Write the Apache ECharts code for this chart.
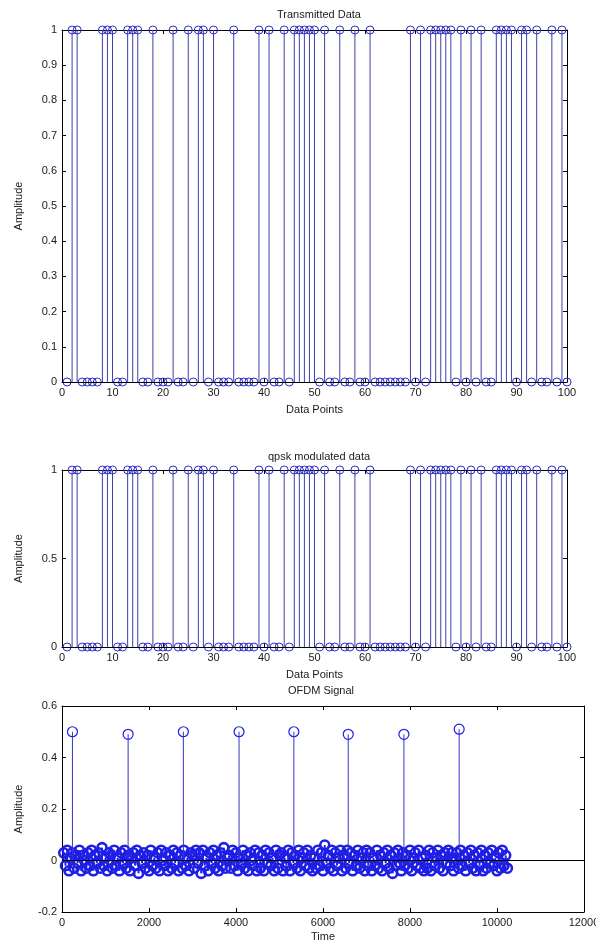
<!DOCTYPE html>
<html>
<head>
<meta charset="utf-8">
<script src="https://cdn.jsdelivr.net/npm/echarts@6/dist/echarts.min.js"></script>
<style>
  html, body { margin: 0; padding: 0; background: #fff; }
  #chart { width: 596px; height: 944px; }
</style>
</head>
<body>
<div id="chart"></div>
<script>
// transmitted bits, sample 1..100
const transmitted = [
  0,1,1,0,0,0,0,1,1,1,
  0,0,1,1,1,0,0,1,0,0,
  0,1,0,0,1,0,1,1,0,1,
  0,0,0,1,0,0,0,0,1,0,
  1,0,0,1,0,1,1,1,1,1,
  0,1,0,0,1,0,0,1,0,0,
  1,0,0,0,0,0,0,0,1,0,
  1,0,1,1,1,1,1,0,1,0,
  1,0,1,0,0,1,1,1,1,0,
  1,1,0,1,0,0,1,0,1,0
]
// qpsk plot shows the same bit pattern
const qpskData = transmitted.slice()

// OFDM signal: small samples every 40 time steps, plus the pilot spikes
const ofdmStep = 40
const ofdmNoise = [
  0.03,-0.02,0.04,-0.04,0.01,0.03,-0.03,0.02,-0.01,0.04,-0.04,0.02,0.00,-0.03,0.03,-0.02,
  0.04,-0.04,0.02,-0.01,0.03,-0.03,0.05,-0.02,0.01,-0.04,0.03,0.02,-0.03,0.04,-0.02,0.01,
  -0.04,0.03,-0.01,0.04,-0.03,0.02,-0.04,0.01,0.03,-0.02,0.04,-0.05,0.02,-0.01,0.03,-0.03,
  0.02,-0.04,0.04,-0.02,0.01,-0.03,0.03,-0.04,0.04,0.00,-0.02,0.03,-0.04,0.02,-0.03,0.04,
  -0.01,0.03,-0.04,0.02,-0.03,0.04,-0.02,0.01,-0.04,0.03,0.02,-0.03,0.04,-0.01,0.03,-0.05,
  0.04,-0.02,0.01,-0.04,0.03,-0.01,0.04,-0.03,0.02,-0.04,0.03,-0.02,0.05,-0.03,0.01,0.02,
  -0.03,0.04,-0.02,0.03,-0.04,0.01,-0.01,0.04,-0.03,0.02,-0.04,0.03,0.00,-0.02,0.04,-0.04,
  0.03,-0.03,0.02,-0.04,0.04,-0.01,0.03,-0.02,0.01,-0.04,0.04,-0.03,0.02,0.03,-0.04,0.01,
  -0.02,0.04,-0.04,0.03,-0.01,0.02,-0.03,0.04,-0.04,0.01,0.03,-0.02,0.04,-0.03,0.02,-0.04,
  0.01,-0.03,0.04,-0.02,0.03,-0.04,0.06,-0.01,0.02,-0.03,0.04,-0.04,0.03,-0.02,0.01,0.04,
  -0.04,0.02,-0.03,0.04,-0.01,0.03,-0.04,0.02,-0.02,0.04,-0.03,0.01,0.03,-0.04,0.04,-0.02,
  0.03,-0.04,0.01,-0.02,0.04,-0.03,0.02,-0.04,0.03,-0.01,0.04,-0.03,0.02,-0.05,0.03,-0.02,
  0.04,-0.01,-0.04,0.03,-0.02,0.02,-0.03,0.04,-0.04,0.01,0.03,-0.02,0.04,-0.03,0.01,-0.04,
  0.02,-0.03,0.04,-0.04,0.03,-0.02,0.01,0.04,-0.03,0.02,-0.04,0.03,-0.01,0.04,-0.02,0.03,
  -0.04,0.01,0.03,-0.03,0.04,-0.02,0.02,-0.04,0.03,-0.01,0.04,-0.03,0.02,-0.04,0.03,-0.02,
  0.04,-0.04,0.02,-0.03,0.03,-0.01,0.04,-0.02,0.01,-0.04,0.03,-0.03,0.04,-0.02,0.02,-0.03
]
const spikeTimes = [240, 1520, 2790, 4070, 5330, 6580, 7860, 9130]
const spikeValues = [0.50, 0.49, 0.50, 0.50, 0.50, 0.49, 0.49, 0.51]

const bitTicks = [0, 100, 10]
const ofdmTicks = [0, 12000, 2000]

const FONT = 'Liberation Sans'
const TXT = '#1a1a1a'

function stem(r, lineColor, markColor, lw, mw) {
  return function (params, api) {
    const x = api.value(0)
    const y = api.value(1)
    const p = api.coord([x, y])
    const b = api.coord([x, 0])
    return {
      type: 'group',
      children: [
        { type: 'line', shape: { x1: b[0], y1: b[1], x2: p[0], y2: p[1] },
          style: { stroke: lineColor, lineWidth: lw } },
        { type: 'circle', shape: { cx: p[0], cy: p[1], r: r },
          style: { fill: 'transparent', stroke: markColor, lineWidth: mw } }
      ]
    }
  }
}

function xAxes(grid, ticks, name, gap) {
  const common = {
    gridIndex: grid, type: 'value', min: ticks[0], max: ticks[1], interval: ticks[2],
    axisLine: { show: true, onZero: false, lineStyle: { color: '#000', width: 1 } },
    axisTick: { show: true, inside: true, length: 4, lineStyle: { color: '#000' } },
    splitLine: { show: false }
  }
  return [
    Object.assign({}, common, {
      position: 'bottom', name: name, nameLocation: 'middle', nameGap: gap,
      nameTextStyle: { fontFamily: FONT, fontSize: 11, color: TXT },
      axisLabel: { fontFamily: FONT, fontSize: 11, color: TXT, margin: 5,
        formatter: v => String(v) }
    }),
    Object.assign({}, common, { position: 'top', axisLabel: { show: false } })
  ]
}

function yAxes(grid, min, max, interval) {
  const common = {
    gridIndex: grid, type: 'value', min: min, max: max, interval: interval,
    axisLine: { show: true, onZero: false, lineStyle: { color: '#000', width: 1 } },
    axisTick: { show: true, inside: true, length: 4, lineStyle: { color: '#000' } },
    splitLine: { show: false }
  }
  return [
    Object.assign({}, common, {
      position: 'left', name: 'Amplitude', nameLocation: 'middle', nameGap: 38,
      nameRotate: 90,
      nameTextStyle: { fontFamily: FONT, fontSize: 11, color: TXT },
      axisLabel: { fontFamily: FONT, fontSize: 11, color: TXT, margin: 5 }
    }),
    Object.assign({}, common, { position: 'right', axisLabel: { show: false } })
  ]
}

const bitPoints = transmitted.map((v, i) => [i + 1, v])
const qpskPoints = qpskData.map((v, i) => [i + 1, v])
const noisePoints = ofdmNoise.map((v, i) => [(i + 1) * ofdmStep, v])
const spikePoints = spikeTimes.map((t, i) => [t, spikeValues[i]])

const stemLine = '#4040a8'
const stemMark = '#2a2ac8'
const ofdmBlue = '#1e1ee6'

function baseline(xi, yi) {
  return {
    type: 'line', xAxisIndex: xi, yAxisIndex: yi, data: [], z: 1,
    markLine: {
      silent: true, symbol: 'none', label: { show: false },
      lineStyle: { color: '#000', width: 1, type: 'solid' },
      data: [{ yAxis: 0 }]
    }
  }
}

const chart = echarts.init(document.getElementById('chart'), null, { renderer: 'canvas' })
chart.setOption({
  backgroundColor: '#fff',
  animation: false,
  title: [
    { text: 'Transmitted Data', left: 314, top: 4, textAlign: 'center',
      textStyle: { fontFamily: FONT, fontSize: 11, fontWeight: 'normal', color: TXT } },
    { text: 'qpsk modulated data', left: 314, top: 446, textAlign: 'center',
      textStyle: { fontFamily: FONT, fontSize: 11, fontWeight: 'normal', color: TXT } },
    { text: 'OFDM Signal', left: 316, top: 680, textAlign: 'center',
      textStyle: { fontFamily: FONT, fontSize: 11, fontWeight: 'normal', color: TXT } }
  ],
  grid: [
    { left: 62, top: 30, width: 505, height: 352, outerBoundsMode: 'none' },
    { left: 62, top: 470, width: 505, height: 177, outerBoundsMode: 'none' },
    { left: 62, top: 706, width: 522, height: 206, outerBoundsMode: 'none' }
  ],
  xAxis: [].concat(
    xAxes(0, bitTicks, 'Data Points', 22),
    xAxes(1, bitTicks, 'Data Points', 22),
    xAxes(2, ofdmTicks, 'Time', 19)
  ),
  yAxis: [].concat(
    yAxes(0, 0, 1, 0.1),
    yAxes(1, 0, 1, 0.5),
    yAxes(2, -0.2, 0.6, 0.2)
  ),
  series: [
    baseline(0, 0),
    { type: 'custom', xAxisIndex: 0, yAxisIndex: 0, clip: false, z: 2,
      renderItem: stem(4, stemLine, stemMark, 1, 1), encode: { x: 0, y: 1 }, data: bitPoints },
    baseline(2, 2),
    { type: 'custom', xAxisIndex: 2, yAxisIndex: 2, clip: false, z: 2,
      renderItem: stem(4, stemLine, stemMark, 1, 1), encode: { x: 0, y: 1 }, data: qpskPoints },
    baseline(4, 4),
    { type: 'custom', xAxisIndex: 4, yAxisIndex: 4, clip: false, z: 2,
      renderItem: stem(4.5, ofdmBlue, ofdmBlue, 2, 2.6), encode: { x: 0, y: 1 }, data: noisePoints },
    { type: 'custom', xAxisIndex: 4, yAxisIndex: 4, clip: false, z: 3,
      renderItem: stem(5, '#3535c8', ofdmBlue, 1, 1.2), encode: { x: 0, y: 1 }, data: spikePoints }
  ]
})
</script>
</body>
</html>
